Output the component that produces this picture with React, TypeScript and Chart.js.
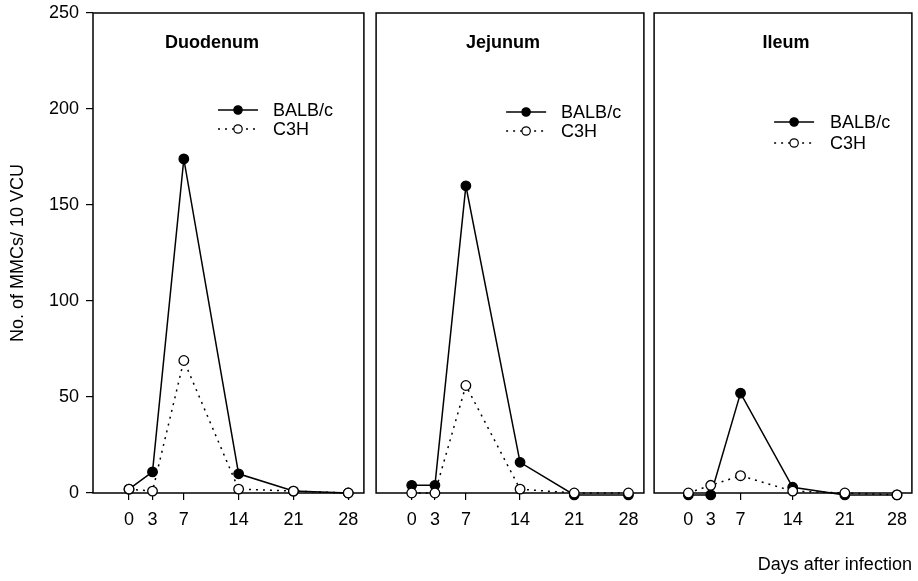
import React, { useEffect, useRef } from 'react';
import { Chart, registerables } from 'chart.js';

Chart.register(...registerables);

// ---- Data ----
const DAYS = [0, 3, 7, 14, 21, 28];
const Y_TICKS = [0, 50, 100, 150, 200, 250];
const SERIES_NAMES = ['BALB/c', 'C3H'];
const PANEL_TITLES = ['Duodenum', 'Jejunum', 'Ileum'];

const DUODENUM_BALBC = [2, 11, 174, 10, 1, 0];
const DUODENUM_C3H = [2, 1, 69, 2, 1, 0];
const JEJUNUM_BALBC = [4, 4, 160, 16, -1, -1];
const JEJUNUM_C3H = [0, 0, 56, 2, 0, 0];
const ILEUM_BALBC = [-1, -1, 52, 3, -1, -1];
const ILEUM_C3H = [0, 4, 9, 1, 0, -1];

const Y_TITLE = 'No. of MMCs/ 10 VCU';
const X_TITLE = 'Days after infection';

// ---- Layout / style ----
const H = 581;
const FONT = "'Liberation Sans', Arial, Helvetica, sans-serif";
const FS = 18;

type PanelCfg = {
  title: string;
  balbc: number[];
  c3h: number[];
  left: number;
  width: number;
  padL: number;
  padR: number;
  showY: boolean;
  showXTitle: boolean;
  titleDx: number;
  legendDx: number;
  legendTextDx: number;
  legendY: number;
  legendGap: number;
};

const PANELS: PanelCfg[] = [
  { title: PANEL_TITLES[0], balbc: DUODENUM_BALBC, c3h: DUODENUM_C3H, left: 0, width: 370, padL: 0, padR: 4, showY: true, showXTitle: false, titleDx: 119, legendDx: 125, legendTextDx: 180, legendY: 110, legendGap: 19 },
  { title: PANEL_TITLES[1], balbc: JEJUNUM_BALBC, c3h: JEJUNUM_C3H, left: 370, width: 280, padL: 3, padR: 5, showY: false, showXTitle: false, titleDx: 127, legendDx: 130, legendTextDx: 185, legendY: 112, legendGap: 19 },
  { title: PANEL_TITLES[2], balbc: ILEUM_BALBC, c3h: ILEUM_C3H, left: 648, width: 270, padL: 2, padR: 1, showY: false, showXTitle: true, titleDx: 132, legendDx: 120, legendTextDx: 176, legendY: 122, legendGap: 21 },
];

const panelDecor = {
  id: 'panelDecor',
  beforeDatasetsDraw(chart: any) {
    const { ctx, chartArea } = chart;
    ctx.save();
    ctx.strokeStyle = '#000';
    ctx.lineWidth = 1.5;
    ctx.strokeRect(chartArea.left, chartArea.top, chartArea.right - chartArea.left, chartArea.bottom - chartArea.top);
    ctx.restore();
  },
  afterDatasetsDraw(chart: any, _args: any, opts: any) {
    const { ctx, chartArea } = chart;
    ctx.save();
    // panel title
    ctx.fillStyle = '#000';
    ctx.font = `bold ${FS}px ${FONT}`;
    ctx.textAlign = 'center';
    ctx.textBaseline = 'middle';
    ctx.fillText(opts.title, chartArea.left + opts.titleDx, 43);
    // legend
    ctx.font = `${FS}px ${FONT}`;
    ctx.textAlign = 'left';
    chart.data.datasets.forEach((ds: any, i: number) => {
      const y = opts.legendY + i * opts.legendGap;
      const x0 = chartArea.left + opts.legendDx;
      const x1 = x0 + 40;
      ctx.beginPath();
      ctx.setLineDash(ds.borderDash || []);
      ctx.strokeStyle = '#000';
      ctx.lineWidth = ds.borderWidth;
      ctx.moveTo(x0, y);
      ctx.lineTo(x1, y);
      ctx.stroke();
      ctx.setLineDash([]);
      ctx.beginPath();
      ctx.arc((x0 + x1) / 2, y, 4.2, 0, Math.PI * 2);
      ctx.fillStyle = ds.pointBackgroundColor;
      ctx.fill();
      ctx.lineWidth = 1.2;
      ctx.stroke();
      ctx.fillStyle = '#000';
      ctx.fillText(ds.label, chartArea.left + opts.legendTextDx, y + 1);
    });
    ctx.restore();
  },
};

function Panel({ cfg }: { cfg: PanelCfg }) {
  const ref = useRef<HTMLCanvasElement>(null);
  useEffect(() => {
    Chart.defaults.font.family = FONT;
    Chart.defaults.color = '#000';
    const chart = new Chart(ref.current as HTMLCanvasElement, {
      type: 'line',
      data: {
        datasets: [
          {
            label: SERIES_NAMES[0],
            data: DAYS.map((d, i) => ({ x: d, y: cfg.balbc[i] })),
            borderColor: '#000',
            borderWidth: 1.5,
            pointRadius: 4.8,
            pointBackgroundColor: '#000',
            pointBorderColor: '#000',
            pointBorderWidth: 1.2,
            clip: false,
            order: 2,
          } as any,
          {
            label: SERIES_NAMES[1],
            data: DAYS.map((d, i) => ({ x: d, y: cfg.c3h[i] })),
            borderColor: '#000',
            borderWidth: 1.5,
            borderDash: [2, 5],
            pointRadius: 4.8,
            pointBackgroundColor: '#fff',
            pointBorderColor: '#000',
            pointBorderWidth: 1.3,
            clip: false,
            order: 1,
          } as any,
        ],
      },
      options: {
        responsive: false,
        animation: false,
        devicePixelRatio: 1,
        layout: { padding: { left: cfg.padL, right: cfg.padR, top: 13, bottom: 0 } },
        plugins: {
          legend: { display: false },
          tooltip: { enabled: false },
          panelDecor: cfg,
        } as any,
        scales: {
          x: {
            type: 'linear',
            min: -4.6,
            max: 30,
            border: { display: false },
            grid: { drawOnChartArea: false, drawTicks: true, tickLength: 7, color: '#000', lineWidth: 1.2 },
            ticks: { padding: 9, color: '#000', font: { size: FS }, maxRotation: 0, autoSkip: false },
            afterBuildTicks: (s: any) => { s.ticks = DAYS.map((v) => ({ value: v })); },
            afterFit: (s: any) => { s.height = 88; },
            title: { display: cfg.showXTitle, text: X_TITLE, align: 'end', padding: { top: 0, bottom: 5 }, font: { size: FS }, color: '#000' },
          },
          y: {
            display: cfg.showY,
            min: 0,
            max: 250,
            border: { display: false },
            grid: { drawOnChartArea: false, drawTicks: true, tickLength: 7, color: '#000', lineWidth: 1.2 },
            ticks: { padding: 7, color: '#000', font: { size: FS, lineHeight: 0.6 } },
            afterBuildTicks: (s: any) => { s.ticks = Y_TICKS.map((v) => ({ value: v })); },
            afterFit: (s: any) => { s.width = cfg.showY ? 93 : 0; },
            title: { display: true, text: Y_TITLE, padding: { top: 7, bottom: 0 }, font: { size: FS }, color: '#000' },
          },
        } as any,
      },
      plugins: [panelDecor],
    });
    return () => chart.destroy();
  }, []);
  return (
    <canvas
      ref={ref}
      width={cfg.width}
      height={H}
      style={{ position: 'absolute', left: cfg.left, top: 0, width: cfg.width, height: H, display: 'block' }}
    />
  );
}

export default function App() {
  return (
    <div style={{ position: 'fixed', left: 0, top: 0, width: 918, height: H, background: '#fff', overflow: 'hidden' }}>
      {PANELS.map((p) => (
        <Panel key={p.title} cfg={p} />
      ))}
    </div>
  );
}
